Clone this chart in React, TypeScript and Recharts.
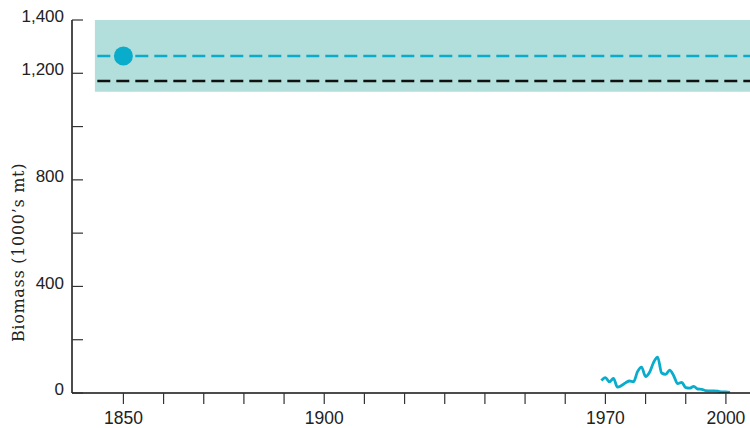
import {
  ComposedChart, Line, XAxis, YAxis, ReferenceArea, ReferenceLine, ReferenceDot,
} from "recharts";

const SERIES_YEARS = [
  1969, 1970, 1971, 1972, 1973, 1974, 1975, 1976, 1977, 1978, 1979,
  1980, 1981, 1982, 1983, 1984, 1985, 1986, 1987, 1988, 1989, 1990,
  1991, 1992, 1993, 1994, 1995, 1996, 1997, 1998, 1999, 2000, 2001,
];
const SERIES_BIOMASS = [
  47, 58, 42, 55, 22, 28, 38, 45, 42, 80, 97,
  62, 78, 115, 135, 75, 70, 86, 65, 35, 40, 20,
  18, 25, 15, 14, 9, 8, 8, 7, 4, 4, 2,
];

const X_TICKS = [1850, 1860, 1870, 1880, 1890, 1900, 1910, 1920, 1930, 1940, 1950, 1960, 1970, 1980, 1990, 2000];
const X_LABELS = [1850, 1900, 1970, 2000];
const Y_TICKS = [0, 200, 400, 600, 800, 1000, 1200, 1400];
const Y_LABELS = [0, 400, 800, 1200, 1400];

// reference levels
const BAND_START = 1842.9;
const BAND_LOW = 1131;
const BAND_HIGH = 1400;
const LINE_START = 1843.5;
const UNFISHED_LEVEL = 1265;
const TARGET_LEVEL = 1171;
const POINT_YEAR = 1850;
const X_DOMAIN: [number, number] = [1837.2, 2006];

const CYAN = "#0aaccb";
const BAND_FILL = "#b2dfdb";
const FONT = "Arial, 'Liberation Sans', sans-serif";

const rows = SERIES_YEARS.map((year, i) => ({ year, biomass: SERIES_BIOMASS[i] }));

function XTick(props: any) {
  const { x, y, payload } = props;
  const v = payload.value as number;
  if (!X_LABELS.includes(v)) return null;
  return (
    <text x={x} y={y} dy="0.71em" textAnchor="middle" style={{ fontSize: 17.5, fontFamily: FONT }} fill="#222">
      {String(v)}
    </text>
  );
}

function YTick(props: any) {
  const { x, y, payload } = props;
  const v = payload.value as number;
  return (
    <g>
      <line x1={x + 7} x2={x + 18} y1={y} y2={y} stroke="#333" strokeWidth={1.2} />
      {Y_LABELS.includes(v) && (
        <text x={x - 1} y={y - 4} dy="0.36em" textAnchor="end" style={{ fontSize: 17, fontFamily: FONT }} fill="#222">
          {v.toLocaleString("en-US")}
        </text>
      )}
    </g>
  );
}

function YTitle(props: any) {
  const vb = props.viewBox;
  const cx = vb.x + 18;
  const cy = vb.y + vb.height / 2 + 46;
  return (
    <text x={cx} y={cy} transform={`rotate(-90, ${cx}, ${cy})`} textAnchor="middle" dominantBaseline="central"
      style={{ fontSize: 16, fontFamily: "'DejaVu Serif', Georgia, serif", letterSpacing: 0.7 }} fill="#222">
      Biomass (1000’s mt)
    </text>
  );
}

export default function App() {
  return (
    <div style={{ position: "absolute", left: 0, top: 0, width: 750, height: 428, background: "#fff" }}>
      <ComposedChart width={750} height={428} data={rows} margin={{ top: 20, right: 0, bottom: 0, left: 0 }}>
        <XAxis
          dataKey="year" type="number" domain={X_DOMAIN} allowDataOverflow ticks={X_TICKS}
          height={35} tickSize={11} tickMargin={8}
          axisLine={{ stroke: "#111", strokeWidth: 1.5 }}
          tickLine={{ stroke: "#333", strokeWidth: 1.2 }}
          tick={<XTick />}
        />
        <YAxis
          type="number" domain={[0, 1400]} allowDataOverflow ticks={Y_TICKS} width={72}
          tickSize={0} tickMargin={7} tickLine={false} tick={<YTick />}
          axisLine={{ stroke: "#111", strokeWidth: 1.5 }}
          label={{ content: <YTitle /> }}
        />
        <ReferenceArea x1={BAND_START} x2={X_DOMAIN[1]} y1={BAND_LOW} y2={BAND_HIGH}
          fill={BAND_FILL} fillOpacity={1} stroke="none" ifOverflow="extendDomain" />
        <ReferenceLine segment={[{ x: LINE_START, y: TARGET_LEVEL }, { x: X_DOMAIN[1], y: TARGET_LEVEL }]}
          stroke="#111" strokeWidth={2.5} strokeDasharray="13 6" />
        <ReferenceLine segment={[{ x: LINE_START, y: UNFISHED_LEVEL }, { x: X_DOMAIN[1], y: UNFISHED_LEVEL }]}
          stroke={CYAN} strokeWidth={2.5} strokeDasharray="13 6" />
        <ReferenceDot x={POINT_YEAR} y={UNFISHED_LEVEL} r={9.5} fill={CYAN} stroke="none" />
        <Line type="monotone" dataKey="biomass" stroke={CYAN} strokeWidth={2.8} dot={false}
          isAnimationActive={false} />
      </ComposedChart>
    </div>
  );
}
